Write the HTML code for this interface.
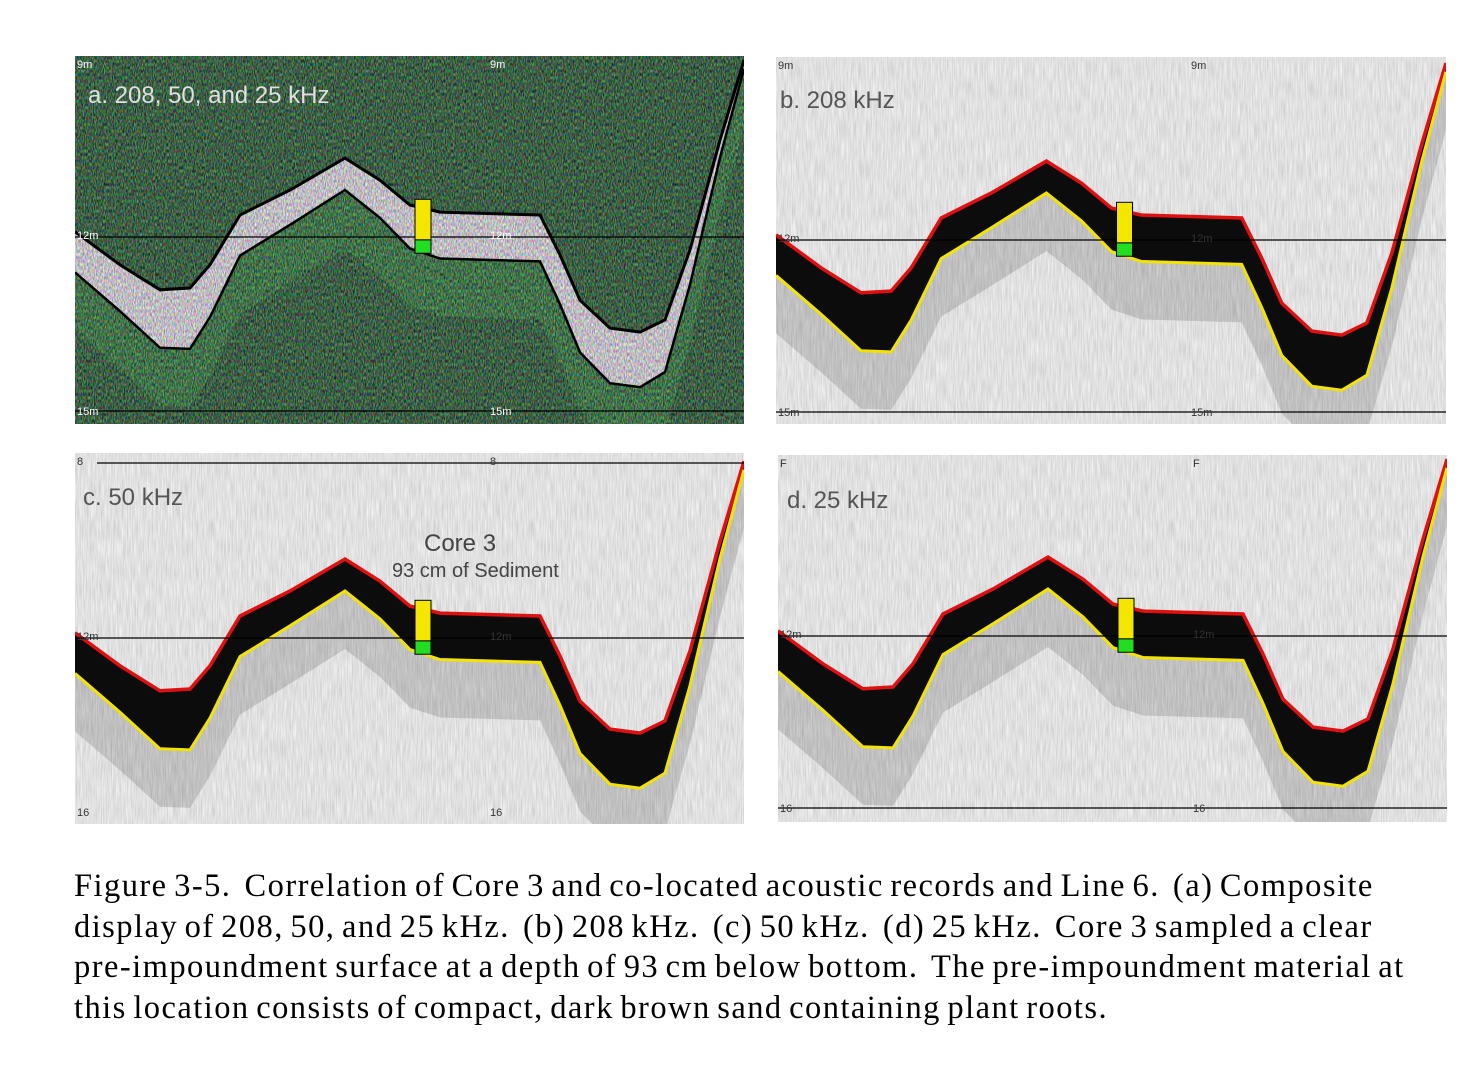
<!DOCTYPE html>
<html><head><meta charset="utf-8">
<style>
html,body{margin:0;padding:0;background:#fff;}
body{width:1476px;height:1076px;overflow:hidden;position:relative;}
#fig{position:absolute;left:0;top:0;}
.cap{position:absolute;left:74px;top:866px;font-family:"Liberation Serif",serif;font-size:32.5px;line-height:40.5px;color:#000;white-space:nowrap;letter-spacing:1.45px;word-spacing:-3px;}
</style></head>
<body>
<svg id="fig" width="1476" height="860" viewBox="0 0 1476 860" xmlns="http://www.w3.org/2000/svg">
<defs>
<filter id="grain" filterUnits="userSpaceOnUse" x="0" y="0" width="1476" height="860" color-interpolation-filters="sRGB">
<feTurbulence type="fractalNoise" baseFrequency="0.8 0.05" numOctaves="2" seed="3"/>
<feColorMatrix type="matrix" values="0.22 0 0 0 0.77  0.22 0 0 0 0.77  0.22 0 0 0 0.77  0 0 0 0 1"/>
</filter>
<filter id="speck" filterUnits="userSpaceOnUse" x="0" y="0" width="1476" height="860" color-interpolation-filters="sRGB">
<feTurbulence type="fractalNoise" baseFrequency="0.9 0.3" numOctaves="1" seed="7"/>
<feColorMatrix type="matrix" values="3 0 0 0 -1  0 3 0 0 -1  0 0 3 0 -1  0 0 0 0 1"/>
</filter>
<filter id="greenNoise" filterUnits="userSpaceOnUse" x="0" y="0" width="1476" height="860" color-interpolation-filters="sRGB">
<feTurbulence type="fractalNoise" baseFrequency="0.6 0.05" numOctaves="2" seed="11"/>
<feColorMatrix type="matrix" values="0.08 0 0 0 0.02  0 0.16 0 0 0.21  0 0 0.06 0 0.09  0 0 0 0 1"/>
</filter>
</defs>
<g id="panels"></g>
</svg>
<div class="cap">Figure 3-5.&nbsp; Correlation of Core 3 and co-located acoustic records and Line 6.&nbsp; (a) Composite<br>display of 208, 50, and 25 kHz.&nbsp; (b) 208 kHz.&nbsp; (c) 50 kHz.&nbsp; (d) 25 kHz.&nbsp; Core 3 sampled a clear<br>pre-impoundment surface at a depth of 93 cm below bottom.&nbsp; The pre-impoundment material at<br>this location consists of compact, dark brown sand containing plant roots.</div>
<script>
// bottom profile data (ping index vs depth in m) and sediment thickness (m)
const pings = [0,45,85,115,135,165,215,270,305,335,365,465,485,505,535,565,590,615,645,669];
const depths = [11.91,12.48,12.91,12.88,12.48,11.62,11.19,10.64,11.02,11.45,11.57,11.62,12.31,13.09,13.57,13.64,13.43,12.22,10.33,8.95];
const thickness = [0.7,0.8,1.0,1.05,0.9,0.7,0.6,0.55,0.65,0.75,0.8,0.8,0.85,0.9,0.95,0.95,0.9,0.6,0.3,0.15];
const maxPing = 669;
const corePing = 340;
const coreDepthTop = 11.35;
const coreSediment = 0.70;
const coreBase = 0.23;

const NS = "http://www.w3.org/2000/svg";
const root = document.getElementById('panels');
function el(tag, attrs, parent){
  const e = document.createElementNS(NS, tag);
  for (const k in attrs) e.setAttribute(k, attrs[k]);
  (parent||root).appendChild(e);
  return e;
}
const panels = [
  {id:'a', x:75, y:56, w:669, h:368, y12:237, dark:true, label:'a. 208, 50, and 25 kHz', lx:88, ly:103, lc:'#e0e0e0', top:'9m', bot:'15m', ybot:411},
  {id:'b', x:776, y:57, w:670, h:367, y12:240, dark:false, label:'b. 208 kHz', lx:780, ly:108, lc:'#555', top:'9m', bot:'15m', ybot:412},
  {id:'c', x:75, y:453, w:669, h:371, y12:638, dark:false, label:'c.  50 kHz', lx:83, ly:505, lc:'#555', top:'8', bot:'16', ybot:null, ytop:463},
  {id:'d', x:778, y:455, w:669, h:367, y12:636, dark:false, label:'d. 25 kHz', lx:787, ly:508, lc:'#555', top:'F', bot:'16', ybot:808}
];
const PX = 58;
panels.forEach(p=>{
  const g = el('g',{});
  
  
  const cid = 'clip'+p.id;
  const cp = el('clipPath',{id:cid}, g);
  el('rect',{x:p.x,y:p.y,width:p.w,height:p.h}, cp);
  const gg = el('g',{'clip-path':'url(#'+cid+')'}, g);
  const xs = v => p.x + v/maxPing*p.w;
  const ys = d => p.y12 + (d-12)*PX;
  el('rect',{x:p.x,y:p.y,width:p.w,height:p.h, fill: p.dark?'#104a22':'#e2e2e2'}, gg);
  el('rect',{x:p.x,y:p.y,width:p.w,height:p.h, filter: p.dark?'url(#greenNoise)':'url(#grain)'}, gg);
  const top = pings.map((v,i)=>[xs(v), ys(depths[i])]);
  const low = pings.map((v,i)=>[xs(v), ys(depths[i]+thickness[i])]);
  const pts = a => a.map(q=>q[0].toFixed(1)+','+q[1].toFixed(1)).join(' ');
  const deep = pings.map((v,i)=>[xs(v), ys(depths[i]+thickness[i]+1.0)]);
  const fade = el('polygon',{points: pts(low)+' '+pts(deep.slice().reverse()), fill: p.dark?'#2a9a36':'#000', opacity: p.dark?0.4:0.14}, gg);
  
  
  const band = el('polygon',{points: pts(top)+' '+pts(low.slice().reverse()), fill: p.dark?'#e9e4ee':'#0c0c0c'}, gg);
  
  
  if(p.dark){
    el('polygon',{points: pts(top)+' '+pts(low.slice().reverse()), filter:'url(#speck)', opacity:0.4}, gg);
  }
  const bl = el('polyline',{points: pts(top), fill:'none', stroke: p.dark?'#000':'#e01010', 'stroke-width': p.dark?3:3.5}, gg);
  
  
  const yl = el('polyline',{points: pts(low), fill:'none', stroke: p.dark?'#000':'#f2e400', 'stroke-width': p.dark?2.5:3}, gg);
  
  
  const l12 = el('line',{x1:p.x,x2:p.x+p.w,y1:p.y12,y2:p.y12,stroke:'#000','stroke-width':1.3}, gg);
  
  
  if(p.ybot){ el('line',{x1:p.x,x2:p.x+p.w,y1:p.ybot,y2:p.ybot,stroke:'#000','stroke-width':1.3}, gg); }
  if(p.ytop){ el('line',{x1:p.x+22,x2:p.x+p.w,y1:p.ytop,y2:p.ytop,stroke:'#000','stroke-width':1.3}, gg); }
  const cx = xs(corePing);
  const cy = ys(coreDepthTop);
  const cyel = el('rect',{x:cx,y:cy,width:16,height:coreSediment*PX,fill:'#f5e600',stroke:'#000','stroke-width':1}, gg);
  
  
  const cgr = el('rect',{x:cx,y:cy+coreSediment*PX,width:16,height:coreBase*PX,fill:'#22dd22',stroke:'#000','stroke-width':1}, gg);
  
  
  const t = el('text',{x:p.lx,y:p.ly,fill:p.lc,'font-family':'Liberation Sans, sans-serif','font-size':24}, gg);
  t.textContent = p.label;
  
  
  const smallFill = p.dark?'#fff':'#333';
  [[p.x+2,p.y+12,p.top],[p.x+415,p.y+12,p.top],[p.x+2,p.y12+2,'12m'],[p.x+415,p.y12+2,'12m'],[p.x+2,(p.ybot||p.y+p.h-12)+4,p.bot],[p.x+415,(p.ybot||p.y+p.h-12)+4,p.bot]].forEach(q=>{
    const s = el('text',{x:q[0],y:q[1],fill:smallFill,'font-family':'Liberation Sans, sans-serif','font-size':11}, gg);
    s.textContent = q[2];
    
    
  });
});
const c1 = el('text',{x:424,y:551,fill:'#444','font-family':'Liberation Sans, sans-serif','font-size':24});
c1.textContent = 'Core 3';


const c2 = el('text',{x:392,y:577,fill:'#444','font-family':'Liberation Sans, sans-serif','font-size':20});
c2.textContent = '93 cm of Sediment';


</script>
</body></html>
